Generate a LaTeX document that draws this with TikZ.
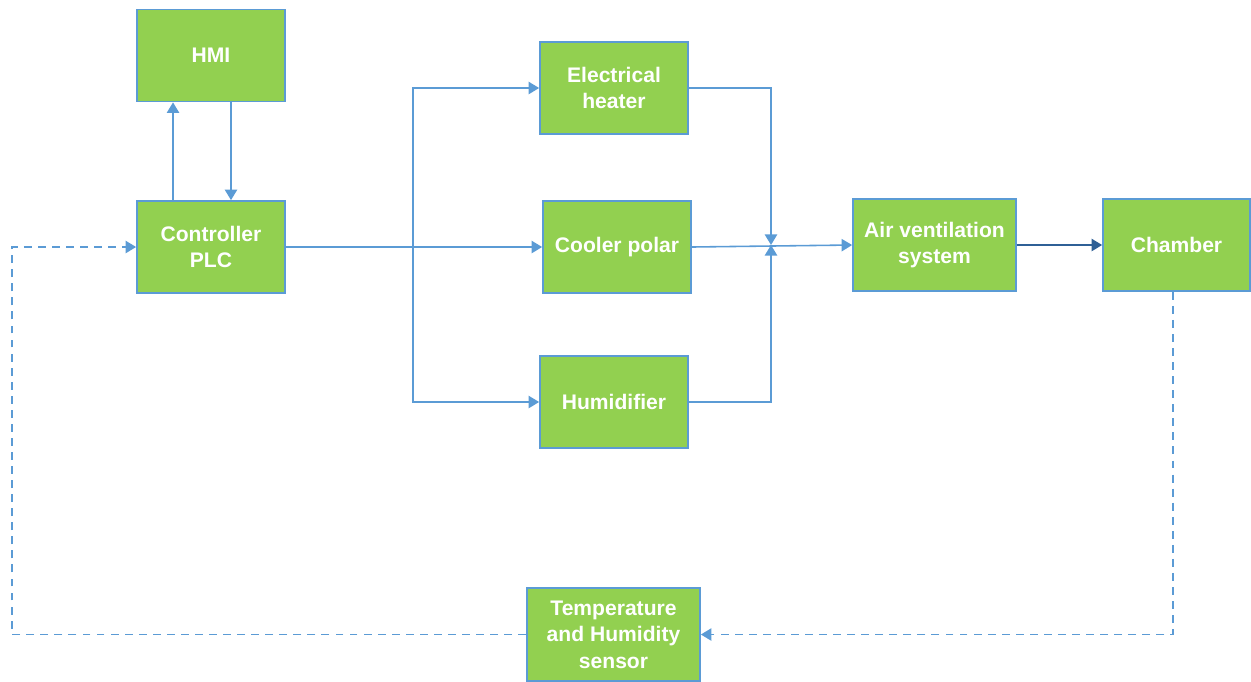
\documentclass[tikz,border=0pt]{standalone}
\usepackage{fontspec}
\setmainfont{Liberation Sans}
\definecolor{boxgreen}{RGB}{146, 208, 80}
\definecolor{lineblue}{RGB}{91, 155, 213}
\definecolor{darkblue}{RGB}{47, 96, 150}
\usetikzlibrary{arrows.meta, positioning}

\begin{document}
\begin{tikzpicture}[
  x=0.02cm, y=-0.02cm,
  blk/.style={draw=lineblue, line width=1pt, fill=boxgreen, text=white, font=\bfseries\fontsize{12}{15}\selectfont, align=center, minimum width=2.96cm, minimum height=1.84cm, inner sep=2pt},
  flow/.style={draw=lineblue, line width=0.9pt, -{Triangle[width=7pt, length=6pt]}},
  fb/.style={flow, dash pattern=on 4.5pt off 3.5pt}
]
  \useasboundingbox (0,0) rectangle (1251,681);
  % blocks
  \node[blk] (hmi) at (211, 55.5) {HMI};
  \node[blk] (plc) at (211, 247) {Controller\\PLC};
  \node[blk] (heater) at (614, 88) {Electrical\\heater};
  \node[blk] (cooler) at (617, 247) {Cooler polar};
  \node[blk] (humid) at (614, 402) {Humidifier};
  \node[blk, minimum width=3.26cm] (air) at (934.5, 245) {Air ventilation\\system};
  \node[blk, minimum width=2.94cm] (chamber) at (1176.5, 245) {Chamber};
  \node[blk, minimum width=3.46cm, minimum height=1.86cm] (sensor) at (613.5, 634.5) {Temperature\\and Humidity\\sensor};
  \coordinate (split) at (413, 247);
  \coordinate (merge) at (771, 245);
  \coordinate (back) at (12, 0);
  % HMI link
  \draw[flow] ([xshift=-0.76cm]plc.north) -- ([xshift=-0.76cm]hmi.south);
  \draw[flow] ([xshift=0.4cm]hmi.south) -- ([xshift=0.4cm]plc.north);
  % actuators
  \draw[flow] (plc.east) -- (cooler.west);
  \draw[flow] (split) |- (heater.west);
  \draw[flow] (split) |- (humid.west);
  \draw[flow] (heater.east) -| (merge);
  \draw[flow] (humid.east) -| (merge);
  \draw[flow] (cooler.east) -- (air.west);
  \draw[flow, draw=darkblue, -{Triangle[width=7pt, length=6pt, fill=darkblue]}] (air.east) -- (chamber.west);
  % feedback
  \draw[fb] ([xshift=-0.07cm]chamber.south) |- (sensor.east);
  \draw[fb] (sensor.west) -| (back |- plc.west) -- (plc.west);
\end{tikzpicture}
\end{document}
